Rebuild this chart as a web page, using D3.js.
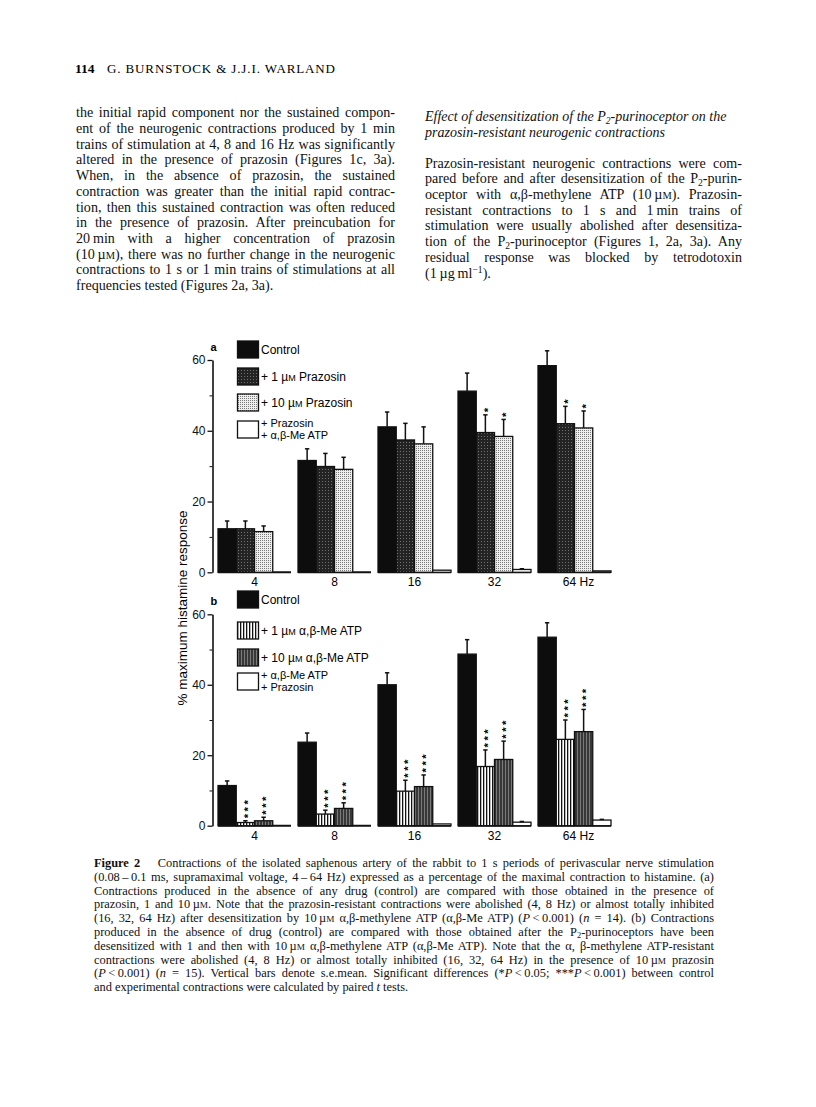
<!DOCTYPE html>
<html>
<head>
<meta charset="utf-8">
<script src="https://cdn.jsdelivr.net/npm/d3@7"></script>
<style>
body { margin: 0; background: #fff; }
#page { position: relative; width: 816px; height: 1107px; overflow: hidden; color: #111;
        font-family: "Liberation Serif", "Times New Roman", serif; }
.ln { position: absolute; white-space: nowrap; text-align: justify; text-align-last: justify; }
.ln.left { text-align: left; text-align-last: left; }
.sc { font-size: 0.74em; }
.sb { font-size: 0.68em; position: relative; top: 0.3em; line-height: 0; }
.sp { font-size: 0.68em; position: relative; top: -0.45em; line-height: 0; }
svg { position: absolute; left: 0; top: 0; }
</style>
</head>
<body>
<div id="page"></div>
<script>
// ---- chart data ----
const freqs = ["4", "8", "16", "32", "64"];
const freqLabels = ["4", "8", "16", "32", "64 Hz"];
const yTicks = [0, 20, 40, 60];
const yMinorTicks = [10, 30, 50];

// panel a
const controlA = [12.3, 31.6, 41.1, 51.2, 58.4];
const controlAErr = [2.2, 3.3, 4.2, 5.1, 4.2];
const praz1A = [12.3, 29.9, 37.4, 39.5, 42.0];
const praz1AErr = [2.2, 3.7, 4.7, 5.0, 4.9];
const praz10A = [11.5, 29.1, 36.3, 38.4, 40.8];
const praz10AErr = [1.6, 3.4, 4.8, 4.8, 4.8];
const prazMeA = [0, 0, 0.6, 0.8, 0.4];
const prazMeAErr = [0, 0, 0, 0.2, 0];
const starsA = [["", "", "", "", ""], ["", "", "", "*", "*"], ["", "", "", "*", "*"], ["", "", "", "", ""]];

// panel b
const controlB = [11.4, 23.7, 40.0, 48.7, 53.5];
const controlBErr = [1.3, 2.6, 3.4, 4.1, 4.1];
const me1B = [0.9, 3.3, 9.8, 16.8, 24.5];
const me1BErr = [0.5, 1.1, 3.1, 4.7, 5.5];
const me10B = [1.4, 4.9, 11.1, 18.8, 26.7];
const me10BErr = [1.0, 1.6, 3.3, 5.2, 6.3];
const meprazB = [0, 0, 0.5, 1.0, 1.6];
const meprazBErr = [0, 0, 0, 0.2, 0.2];
const starsB = [["", "", "", "", ""], ["***", "***", "***", "***", "***"], ["***", "***", "***", "***", "***"], ["", "", "", "", ""]];

// legend labels: [line1, line2], "µM" is drawn with small-cap M
const legendA = [["Control"], ["+ 1 µM Prazosin"], ["+ 10 µM Prazosin"], ["+ Prazosin", "+ α,β-Me ATP"]];
const legendB = [["Control"], ["+ 1 µM α,β-Me ATP"], ["+ 10 µM α,β-Me ATP"], ["+ α,β-Me ATP", "+ Prazosin"]];

// ---- page text ----
const page = d3.select("#page");
const M = 'µ<span class="sc">M</span>';
const P2 = 'P<span class="sb">2</span>';

const leftLines = [
  "the initial rapid component nor the sustained compon-",
  "ent of the neurogenic contractions produced by 1 min",
  "trains of stimulation at 4, 8 and 16 Hz was significantly",
  "altered in the presence of prazosin (Figures 1c, 3a).",
  "When, in the absence of prazosin, the sustained",
  "contraction was greater than the initial rapid contrac-",
  "tion, then this sustained contraction was often reduced",
  "in the presence of prazosin. After preincubation for",
  "20&#8201;min with a higher concentration of prazosin",
  "(10&#8201;" + M + "), there was no further change in the neurogenic",
  "contractions to 1 s or 1 min trains of stimulations at all",
  "frequencies tested (Figures 2a, 3a)."
];
const headLines = [
  "Effect of desensitization of the " + P2 + "-purinoceptor on the",
  "prazosin-resistant neurogenic contractions"
];
const rightLines = [
  "Prazosin-resistant neurogenic contractions were com-",
  "pared before and after desensitization of the " + P2 + "-purin-",
  "oceptor with α,β-methylene ATP (10&#8201;" + M + "). Prazosin-",
  "resistant contractions to 1 s and 1&#8201;min trains of",
  "stimulation were usually abolished after desensitiza-",
  "tion of the " + P2 + "-purinoceptor (Figures 1, 2a, 3a). Any",
  "residual response was blocked by tetrodotoxin",
  '(1&#8201;µg&#8201;ml<span class="sp">&#8722;1</span>).'
];
const captionLines = [
  "<b>Figure 2</b>&#8195; Contractions of the isolated saphenous artery of the rabbit to 1 s periods of perivascular nerve stimulation",
  "(0.08&#8201;&#8211;&#8201;0.1 ms, supramaximal voltage, 4&#8201;&#8211;&#8201;64 Hz) expressed as a percentage of the maximal contraction to histamine. (a)",
  "Contractions produced in the absence of any drug (control) are compared with those obtained in the presence of",
  "prazosin, 1 and 10&#8201;" + M + ". Note that the prazosin-resistant contractions were abolished (4, 8 Hz) or almost totally inhibited",
  "(16, 32, 64 Hz) after desensitization by 10&#8201;" + M + " α,β-methylene ATP (α,β-Me ATP) (<i>P</i>&#8201;&lt;&#8201;0.001) (<i>n</i> = 14). (b) Contractions",
  "produced in the absence of drug (control) are compared with those obtained after the " + P2 + "-purinoceptors have been",
  "desensitized with 1 and then with 10&#8201;" + M + " α,β-methylene ATP (α,β-Me ATP). Note that the α, β-methylene ATP-resistant",
  "contractions were abolished (4, 8 Hz) or almost totally inhibited (16, 32, 64 Hz) in the presence of 10&#8201;" + M + " prazosin",
  "(<i>P</i>&#8201;&lt;&#8201;0.001) (<i>n</i> = 15). Vertical bars denote s.e.mean. Significant differences (*<i>P</i>&#8201;&lt;&#8201;0.05; ***<i>P</i>&#8201;&lt;&#8201;0.001) between control",
  "and experimental contractions were calculated by paired <i>t</i> tests."
];

function textBlock(lines, x, base0, width, fs, lh, opts) {
  opts = opts || {};
  let off = (lh - 1.107 * fs) / 2 + 0.891 * fs;
  lines.forEach(function(html, i) {
    let last = i === lines.length - 1;
    page.append("div")
      .attr("class", "ln" + ((opts.left || (last && !opts.justifyLast)) ? " left" : ""))
      .style("left", x + "px")
      .style("top", (base0 + i * lh - off) + "px")
      .style("width", width + "px")
      .style("font-size", fs + "px")
      .style("line-height", lh + "px")
      .style("font-style", opts.italic ? "italic" : "normal")
      .html(html);
  });
}

textBlock(leftLines, 76, 118, 319, 14.1, 15.7);
textBlock(headLines, 425, 121.7, 317, 14, 15.6, { italic: true, left: true });
textBlock(rightLines, 425, 168.3, 317, 14.1, 15.7);
textBlock(captionLines, 94, 868, 620, 12.4, 13.8);

// ---- svg ----
const svg = page.append("svg").attr("width", 816).attr("height", 1107);

svg.append("text").attr("x", 75).attr("y", 73)
  .style("font-family", "Liberation Serif").style("font-size", "13.5px").style("font-weight", "bold")
  .text("114");
svg.append("text").attr("x", 107).attr("y", 73)
  .attr("textLength", 228).attr("lengthAdjust", "spacing")
  .style("font-family", "Liberation Serif").style("font-size", "13px")
  .text("G. BURNSTOCK & J.J.I. WARLAND");

// fill patterns
const defs = svg.append("defs");
function pattern(id, w, h, bg, marks) {
  let p = defs.append("pattern").attr("id", id).attr("patternUnits", "userSpaceOnUse")
    .attr("width", w).attr("height", h);
  p.append("rect").attr("width", w).attr("height", h).attr("fill", bg);
  marks.forEach(function(m) {
    p.append("rect").attr("x", m[0]).attr("y", m[1]).attr("width", m[2]).attr("height", m[3]).attr("fill", m[4]);
  });
}
pattern("dk", 3, 3, "#232323", [[1, 1, 1, 1, "#707070"]]);
pattern("lt", 2, 2, "#eeeeee", [[0, 0, 1, 1, "#7a7a7a"]]);
pattern("vs", 3, 4, "#ffffff", [[0, 0, 1.3, 4, "#111"]]);
pattern("vd", 3, 4, "#383838", [[1, 0, 1, 4, "#7a7a7a"]]);

const sans = "'Liberation Sans', Arial, sans-serif";

const x0 = d3.scaleBand().domain(freqs).range([218, 611]).paddingInner(0.0875).paddingOuter(0);
const x1 = d3.scaleBand().domain(d3.range(4)).range([0, x0.bandwidth()]);

function drawPanel(cfg) {
  let g = svg.append("g");
  let y = d3.scaleLinear().domain([0, 60]).range([cfg.bottom, cfg.top]);

  // y axis
  let ax = g.append("g").attr("transform", "translate(212.5,0)")
    .call(d3.axisLeft(y).tickValues(yTicks).tickSize(5).tickSizeOuter(0).tickPadding(2).tickFormat(d3.format("d")));
  ax.select(".domain").attr("stroke-width", 1.6);
  ax.selectAll(".tick line").attr("stroke-width", 1.3);
  ax.selectAll("text").style("font-family", sans).style("font-size", "12px").attr("fill", "#111");
  g.append("g").attr("transform", "translate(212.5,0)")
    .call(d3.axisLeft(y).tickValues(yMinorTicks).tickSize(3).tickSizeOuter(0).tickFormat(""))
    .call(s => s.select(".domain").remove());

  g.append("text").attr("x", 210.5).attr("y", cfg.top - 9)
    .style("font-family", sans).style("font-size", "11px").style("font-weight", "bold")
    .text(cfg.letter);

  // group baselines and labels
  freqs.forEach(function(f, i) {
    g.append("line").attr("x1", x0(f)).attr("x2", x0(f) + x0.bandwidth())
      .attr("y1", y(0)).attr("y2", y(0)).attr("stroke", "#111").attr("stroke-width", 2);
    g.append("text").attr("x", x0(f) + x0.bandwidth() / 2 + (i === 4 ? 4 : 0)).attr("y", y(0) + 14)
      .attr("text-anchor", "middle").style("font-family", sans).style("font-size", "12px")
      .text(freqLabels[i]);
  });

  // bars
  cfg.series.forEach(function(s, si) {
    let cells = freqs.map((f, i) => ({ f: f, v: s.values[i], e: s.err[i], star: cfg.stars[si][i] }));
    g.selectAll(null).data(cells).enter().append("rect")
      .attr("x", d => x0(d.f) + x1(si))
      .attr("y", d => y(d.v))
      .attr("width", x1.bandwidth())
      .attr("height", d => y(0) - y(d.v))
      .attr("fill", s.fill).attr("stroke", "#111").attr("stroke-width", 1.3);

    cells.forEach(function(d) {
      let cx = x0(d.f) + x1(si) + x1.bandwidth() / 2;
      let top = y(d.v + d.e);
      if (d.e > 0) {
        g.append("line").attr("x1", cx).attr("x2", cx).attr("y1", y(d.v)).attr("y2", top)
          .attr("stroke", "#111").attr("stroke-width", 1.5);
        g.append("line").attr("x1", cx - 2.2).attr("x2", cx + 2.2).attr("y1", top).attr("y2", top)
          .attr("stroke", "#111").attr("stroke-width", 1.5);
      }
      if (d.star) {
        // stacked asterisks: one text laid along a vertical baseline
        g.append("text")
          .attr("transform", "translate(" + (cx + 6.2) + "," + (top - 2.5) + ") rotate(-90)")
          .style("font-family", sans).style("font-size", "11.5px").style("font-weight", "bold")
          .style("letter-spacing", "2.4px")
          .text(d.star);
      }
    });
  });

  // legend
  cfg.legend.forEach(function(lab, i) {
    let by = cfg.legendY[i];
    g.append("rect").attr("x", 237.5).attr("y", by).attr("width", 21).attr("height", 17)
      .attr("fill", cfg.series[i].fill).attr("stroke", "#111").attr("stroke-width", 1.3);
    let two = lab.length > 1;
    let t = g.append("text").attr("y", two ? by + 5.5 : by + 12.5)
      .style("font-family", sans).style("font-size", two ? "11px" : "12px");
    lab.forEach(function(line, li) {
      let parts = line.split("µM");
      t.append("tspan").attr("x", 261).attr("dy", li === 0 ? 0 : 12.6).text(parts[0]);
      if (parts.length > 1) {
        t.append("tspan").text("µ");
        t.append("tspan").style("font-size", "9px").text("M");
        t.append("tspan").text(parts[1]);
      }
    });
  });
}

drawPanel({
  letter: "a", top: 360, bottom: 572.3,
  series: [
    { values: controlA, err: controlAErr, fill: "#0d0d0d" },
    { values: praz1A, err: praz1AErr, fill: "url(#dk)" },
    { values: praz10A, err: praz10AErr, fill: "url(#lt)" },
    { values: prazMeA, err: prazMeAErr, fill: "#fff" }
  ],
  stars: starsA, legend: legendA, legendY: [341, 368, 394, 421]
});

drawPanel({
  letter: "b", top: 614.3, bottom: 825.7,
  series: [
    { values: controlB, err: controlBErr, fill: "#0d0d0d" },
    { values: me1B, err: me1BErr, fill: "url(#vs)" },
    { values: me10B, err: me10BErr, fill: "url(#vd)" },
    { values: meprazB, err: meprazBErr, fill: "#fff" }
  ],
  stars: starsB, legend: legendB, legendY: [591, 622, 649, 673]
});

svg.append("text")
  .attr("transform", "translate(187,608) rotate(-90)")
  .attr("text-anchor", "middle")
  .style("font-family", sans).style("font-size", "13.5px")
  .text("% maximum histamine response");
</script>
</body>
</html>
